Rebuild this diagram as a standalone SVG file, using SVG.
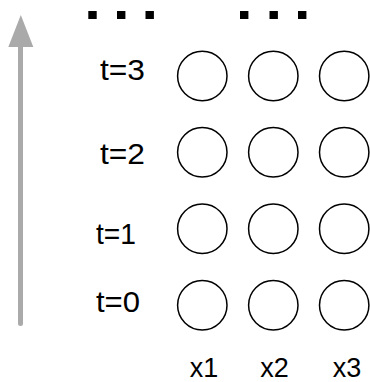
<svg xmlns="http://www.w3.org/2000/svg" width="370" height="382" viewBox="0 0 370 382">
<defs>
<style>
.n{fill:#ffffff;stroke:#000000;stroke-width:1.5}
.lbl{font-family:"Liberation Sans",Arial,Helvetica,sans-serif;font-size:30px;fill:#000000}
.xl{font-family:"Liberation Sans",Arial,Helvetica,sans-serif;font-size:27px;fill:#000000;text-anchor:middle}
.dot{fill:#000000}
</style>
</defs>
<rect width="370" height="382" fill="#ffffff"/>
<g id="connectors">
<line x1="20.5" y1="323.5" x2="20.5" y2="45" stroke="#aaaaaa" stroke-width="5" stroke-linecap="round"/>
<polygon points="20.8,15 33.3,47 8.3,47" fill="#aaaaaa"/>
</g>
<g id="ellipsis">
<rect class="dot" x="88.3" y="11" width="8.4" height="8"/>
<rect class="dot" x="117" y="11" width="8.4" height="8"/>
<rect class="dot" x="145.5" y="11" width="8.4" height="8"/>
<rect class="dot" x="240" y="11" width="8.4" height="8"/>
<rect class="dot" x="269.5" y="11" width="8.4" height="8"/>
<rect class="dot" x="298" y="11" width="8.4" height="8"/>
</g>
<g id="time-labels">
<text class="lbl" x="100" y="79.5" textLength="45" lengthAdjust="spacingAndGlyphs">t=3</text>
<text class="lbl" x="100" y="164" textLength="45" lengthAdjust="spacingAndGlyphs">t=2</text>
<text class="lbl" x="96" y="244" textLength="40" lengthAdjust="spacingAndGlyphs">t=1</text>
<text class="lbl" x="96" y="312" textLength="44" lengthAdjust="spacingAndGlyphs">t=0</text>
</g>
<g id="node-t3-x1"><circle class="n" cx="202.3" cy="76" r="24.7"/></g>
<g id="node-t3-x2"><circle class="n" cx="273.3" cy="76" r="24.7"/></g>
<g id="node-t3-x3"><circle class="n" cx="344.2" cy="76" r="24.7"/></g>
<g id="node-t2-x1"><circle class="n" cx="202.3" cy="152.3" r="24.7"/></g>
<g id="node-t2-x2"><circle class="n" cx="273.3" cy="152.3" r="24.7"/></g>
<g id="node-t2-x3"><circle class="n" cx="344.2" cy="152.3" r="24.7"/></g>
<g id="node-t1-x1"><circle class="n" cx="202.3" cy="228.7" r="24.7"/></g>
<g id="node-t1-x2"><circle class="n" cx="273.3" cy="228.7" r="24.7"/></g>
<g id="node-t1-x3"><circle class="n" cx="344.2" cy="228.7" r="24.7"/></g>
<g id="node-t0-x1"><circle class="n" cx="202.3" cy="305.3" r="24.7"/></g>
<g id="node-t0-x2"><circle class="n" cx="273.3" cy="305.3" r="24.7"/></g>
<g id="node-t0-x3"><circle class="n" cx="344.2" cy="305.3" r="24.7"/></g>
<g id="var-labels">
<text class="xl" x="204" y="377">x1</text>
<text class="xl" x="274.5" y="377">x2</text>
<text class="xl" x="347" y="377">x3</text>
</g>
</svg>
